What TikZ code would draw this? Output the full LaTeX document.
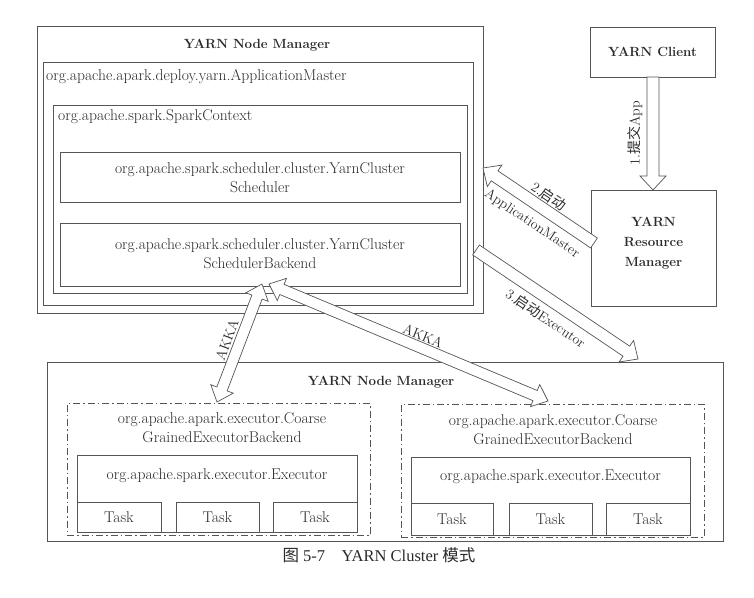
\documentclass[tikz,border=0pt]{standalone}
\usepackage{fontspec}
\newfontfamily\cjk{Noto Sans CJK SC}
\newfontfamily\capfont{Liberation Serif}
\usetikzlibrary{calc}
\definecolor{ln}{HTML}{555555}
\definecolor{tx}{HTML}{2A2A2A}
\tikzset{
  box/.style={draw=ln, line width=0.8pt, rectangle, inner sep=0pt},
  dashbox/.style={draw=ln, line width=0.8pt, rectangle, inner sep=0pt, dash pattern=on 7pt off 3pt on 1.5pt off 3pt},
  txt/.style={text=tx, inner sep=0pt, font=\fontsize{15.6}{19}\selectfont, align=center},
  btxt/.style={text=tx, inner sep=0pt, font=\bfseries\fontsize{13.3}{20}\selectfont, align=center},
  alab/.style={text=tx, inner sep=0pt, font=\fontsize{14}{15}\selectfont},
  arrowline/.style={draw=ln, line width=0.7pt, fill=white, line join=miter}
}
% single hollow block arrow from #1 to #2
\newcommand{\hollowarrow}[2]{%
  \coordinate (hh) at ($(#2)!14pt!(#1)$);
  \draw[arrowline] ($(#1)!6pt!90:(#2)$) -- ($(hh)!6pt!90:(#2)$) -- ($(hh)!13pt!90:(#2)$)
    -- (#2) -- ($(hh)!13pt!-90:(#2)$) -- ($(hh)!6pt!-90:(#2)$) -- ($(#1)!6pt!-90:(#2)$) -- cycle;
}
% double-headed hollow block arrow
\newcommand{\hollowdarrow}[2]{%
  \coordinate (hh) at ($(#2)!14pt!(#1)$);
  \coordinate (hz) at ($(#1)!14pt!(#2)$);
  \draw[arrowline] (#1) -- ($(hz)!12pt!90:(#2)$) -- ($(hz)!5.5pt!90:(#2)$) -- ($(hh)!5.5pt!90:(#2)$) -- ($(hh)!12pt!90:(#2)$)
    -- (#2) -- ($(hh)!12pt!-90:(#2)$) -- ($(hh)!5.5pt!-90:(#2)$) -- ($(hz)!5.5pt!-90:(#2)$) -- ($(hz)!12pt!-90:(#2)$) -- cycle;
}
\begin{document}
\begin{tikzpicture}[x=1pt,y=-1pt]
\useasboundingbox (0,0) rectangle (754,597);
\fill[white] (0,0) rectangle (754,597);

% ---- top node manager ----
\node[box, minimum width=446, minimum height=287] (nm1) at (260,169.5) {};
\node[btxt] (nm1t) at (257,45) {YARN Node Manager};
\node[box, minimum width=430, minimum height=243] (am) at (258,183.5) {};
\node[txt, anchor=west] (amt) at (46,77) {org.apache.apark.deploy.yarn.ApplicationMaster};
\node[box, minimum width=414, minimum height=188] (sc) at (260,199) {};
\node[txt, anchor=west] (sct) at (58,117) {org.apache.spark.SparkContext};
\node[box, minimum width=400, minimum height=50] (sch) at (260,177) {};
\node[txt] (scht) at (260,177.5) {org.apache.spark.scheduler.cluster.YarnCluster\\Scheduler};
\node[box, minimum width=400, minimum height=63] (bk) at (260,254.5) {};
\node[txt] (bkt) at (260,254) {org.apache.spark.scheduler.cluster.YarnCluster\\SchedulerBackend};

% ---- client / RM ----
\node[box, minimum width=125, minimum height=50] (cl) at (652.5,52) {};
\node[btxt] (clt) at (652.5,52) {YARN Client};
\node[box, minimum width=125, minimum height=116] (rm) at (653.5,248) {};
\node[btxt] (rmt) at (653.5,243) {YARN\\Resource\\Manager};

% ---- bottom node manager ----
\node[box, minimum width=676, minimum height=179] (nm2) at (385,451.5) {};
\node[btxt] (nm2t) at (381,382) {YARN Node Manager};

\node[dashbox, minimum width=303, minimum height=132] (ex1) at (218.5,469) {};
\node[txt] (ex1t) at (222,428) {org.apache.apark.executor.Coarse\\GrainedExecutorBackend};
\node[box, minimum width=280, minimum height=77] (e1) at (217,493.5) {};
\node[txt] (e1t) at (217,476) {org.apache.spark.executor.Executor};
\node[box, minimum width=84, minimum height=30, txt] (t11) at (119,517) {Task};
\node[box, minimum width=83, minimum height=30, txt] (t12) at (217.5,517) {Task};
\node[box, minimum width=84, minimum height=30, txt] (t13) at (315,517) {Task};

\node[dashbox, minimum width=303, minimum height=133] (ex2) at (552.5,470.5) {};
\node[txt] (ex2t) at (553,430) {org.apache.apark.executor.Coarse\\GrainedExecutorBackend};
\node[box, minimum width=279, minimum height=78] (e2) at (550.5,496) {};
\node[txt] (e2t) at (550.5,477) {org.apache.spark.executor.Executor};
\node[box, minimum width=82, minimum height=32, txt] (t21) at (452,519) {Task};
\node[box, minimum width=83, minimum height=32, txt] (t22) at (550.5,519) {Task};
\node[box, minimum width=84, minimum height=32, txt] (t23) at (648,519) {Task};

% ---- arrow end points ----
\coordinate (a1s) at (653,77);
\coordinate (a1e) at (653,190);
\coordinate (a2s) at (594,243);
\coordinate (a2e) at (483,168);
\coordinate (a3s) at (476,250);
\coordinate (a3e) at (638,359);
\coordinate (k1s) at (217,402);
\coordinate (k1e) at (262,284);
\coordinate (k2s) at (548,401);
\coordinate (k2e) at (269,284);

\hollowarrow{a1s}{a1e}
\hollowarrow{a2s}{a2e}
\hollowarrow{a3s}{a3e}
\hollowdarrow{k1s}{k1e}
\hollowdarrow{k2s}{k2e}

% ---- arrow labels ----
\node[alab, rotate=90] (l1) at (635,133) {1.{\cjk 提交}App};
\node[alab, rotate=-34] (l2a) at (549,196) {2.{\cjk 启动}};
\node[alab, rotate=-34] (l2b) at (532,224) {ApplicationMaster};
\node[alab, rotate=-34] (l3) at (546,318) {3.{\cjk 启动}Executor};
\node[alab, rotate=69] (lk1) at (227,340) {AKKA};
\node[alab, rotate=-22.5] (lk2) at (423,336) {AKKA};

% ---- caption ----
\node[text=tx, inner sep=0pt, font=\capfont\fontsize{16.5}{18}\selectfont] (cap) at (379,555) {{\cjk 图} 5-7\quad YARN Cluster {\cjk 模式}};
\end{tikzpicture}
\end{document}
